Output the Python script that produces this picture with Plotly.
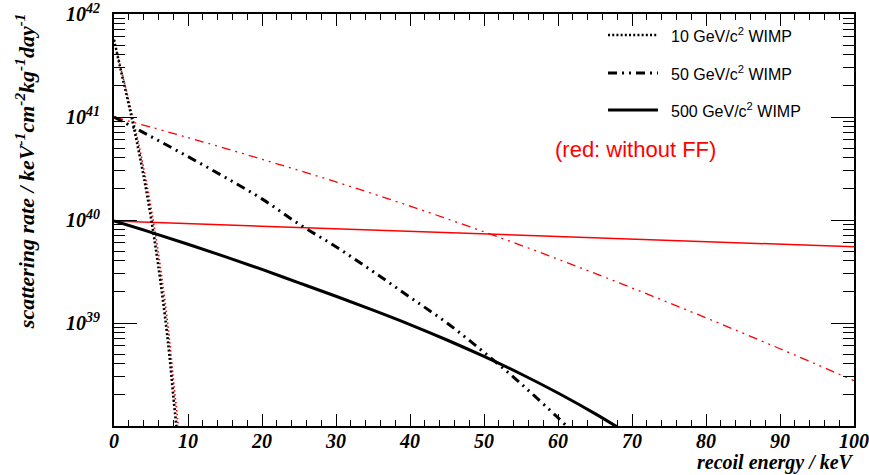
import plotly.graph_objects as go

# Differential WIMP scattering rates (log10 of keV^-1 cm^-2 kg^-1 day^-1)
# with form factor (black) and without form factor (red)
e_10 = [0, 1, 2, 3, 4, 5, 6, 7, 7.5, 8, 8.5]
rate_10_ff = [41.75, 41.43, 41.12, 40.79, 40.43, 40.02, 39.55, 39.0, 38.68, 38.3, 37.95]
e_10_noff = [0, 1, 2, 3, 4, 5, 6, 7, 7.5, 8, 8.5, 9]
rate_10_noff = [41.75, 41.45, 41.16, 40.85, 40.51, 40.12, 39.68, 39.15, 38.84, 38.47, 38.13, 37.76]

e_50 = [0, 5, 10, 15, 20, 25, 30, 35, 40, 45, 50, 55, 60, 62]
rate_50_ff = [41.0, 40.81, 40.615, 40.415, 40.205, 39.96, 39.74, 39.5, 39.25, 39.0, 38.715, 38.41, 38.08, 37.94]
e_50_noff = [0, 10, 20, 30, 40, 50, 60, 70, 80, 90, 100]
rate_50_noff = [41.0, 40.80, 40.59, 40.37, 40.135, 39.885, 39.62, 39.34, 39.05, 38.75, 38.44]

e_500 = [0, 5, 10, 15, 20, 25, 30, 35, 40, 45, 50, 55, 60, 65, 68, 70]
rate_500_ff = [39.99, 39.88, 39.765, 39.645, 39.52, 39.39, 39.26, 39.125, 38.985, 38.835,
               38.675, 38.505, 38.32, 38.12, 37.99, 37.9]
e_500_noff = [0, 30, 50, 75, 100]
rate_500_noff = [39.99, 39.915, 39.865, 39.805, 39.74]

legend_labels = ["10 GeV/c<sup>2</sup> WIMP", "50 GeV/c<sup>2</sup> WIMP", "500 GeV/c<sup>2</sup> WIMP"]
x_ticks = [0, 10, 20, 30, 40, 50, 60, 70, 80, 90, 100]
y_exponents = [38, 39, 40, 41, 42]

DOT = "2px,2.2px"
DOT_THIN = "1.5px,2.5px"
DASH3 = "9px,5px,2px,5px,2px,5px"

styles = {
    "10": dict(dash=DOT, width=2.6),
    "50": dict(dash=DASH3, width=3),
    "500": dict(dash="solid", width=3),
}

def pw(vals):
    return [10.0 ** v for v in vals]

fig = go.Figure()

# red curves: without form factor
fig.add_trace(go.Scatter(x=e_500_noff, y=pw(rate_500_noff), mode="lines",
                         line=dict(color="#ff0000", width=1.5)))
fig.add_trace(go.Scatter(x=e_50_noff, y=pw(rate_50_noff), mode="lines", line_shape="spline",
                         line=dict(color="#ff0000", width=1.3, dash=DASH3)))
fig.add_trace(go.Scatter(x=e_10_noff, y=pw(rate_10_noff), mode="lines", line_shape="spline",
                         line=dict(color="#ff0000", width=1.6, dash=DOT_THIN)))

# black curves: with form factor
fig.add_trace(go.Scatter(x=e_500, y=pw(rate_500_ff), mode="lines", line_shape="spline",
                         line=dict(color="black", **styles["500"])))
fig.add_trace(go.Scatter(x=e_50, y=pw(rate_50_ff), mode="lines", line_shape="spline",
                         line=dict(color="black", **styles["50"])))
fig.add_trace(go.Scatter(x=e_10, y=pw(rate_10_ff), mode="lines", line_shape="spline",
                         line=dict(color="black", **styles["10"])))

serif_bi = dict(family="Liberation Serif", color="black", weight="bold", style="italic")

fig.update_layout(
    width=869, height=475,
    margin=dict(l=114, r=15, t=14, b=49),
    paper_bgcolor="white", plot_bgcolor="white",
    showlegend=False,
    xaxis=dict(
        range=[0, 100], tickvals=x_ticks, ticks="inside", ticklen=12, tickwidth=1.2,
        tickcolor="black", showline=True, linecolor="black", linewidth=2, mirror="ticks",
        showgrid=False, zeroline=False, automargin=False,
        minor=dict(dtick=2, ticks="inside", ticklen=6, tickwidth=1, tickcolor="black", showgrid=False),
        tickfont=dict(size=20, **serif_bi), ticklabelstandoff=-4,
    ),
    yaxis=dict(
        type="log", range=[38, 42],
        tickvals=[10.0 ** e for e in y_exponents],
        ticktext=["" if e == 38 else "10<sup>%d</sup>" % e for e in y_exponents],
        ticks="inside", ticklen=23, tickwidth=1.2, tickcolor="black",
        showline=True, linecolor="black", linewidth=2, mirror="ticks",
        showgrid=False, zeroline=False, automargin=False,
        minor=dict(dtick="D1", ticks="inside", ticklen=11, tickwidth=1, tickcolor="black", showgrid=False),
        tickfont=dict(size=20, **serif_bi),
        ticklabelstandoff=8,
    ),
)

# axis titles
fig.add_annotation(text="recoil energy / keV", xref="paper", yref="paper",
                   x=1.003, y=-0.088, xanchor="right", yanchor="middle", showarrow=False,
                   font=dict(size=20, **serif_bi))
fig.add_annotation(text="scattering rate / keV<sup>-1</sup>cm<sup>-2</sup>kg<sup>-1</sup>day<sup>-1</sup>",
                   xref="paper", yref="paper", x=-0.121, y=1.008, xanchor="center", yanchor="top",
                   textangle=-90, showarrow=False, font=dict(size=22, **serif_bi))

fig.add_annotation(text="(red: without FF)", xref="paper", yref="paper",
                   x=(635 - 114) / 740, y=(426 - 150) / 412, xanchor="center", yanchor="middle",
                   showarrow=False, font=dict(family="Liberation Sans", size=22, color="#ff0000"))

# legend block
rows_y = [0.949, 0.857, 0.767]
for lab, key, yy in zip(legend_labels, ["10", "50", "500"], rows_y):
    st = styles[key]
    fig.add_shape(type="line", xref="paper", yref="paper", x0=0.6676, x1=0.7351, y0=yy, y1=yy,
                  line=dict(color="black", width=st["width"], dash=st["dash"]))
    fig.add_annotation(text=lab, xref="paper", yref="paper", x=0.75, y=yy,
                       xanchor="left", yanchor="middle", showarrow=False,
                       font=dict(family="Liberation Sans", size=16, color="black"))

fig.write_html("out.html")
